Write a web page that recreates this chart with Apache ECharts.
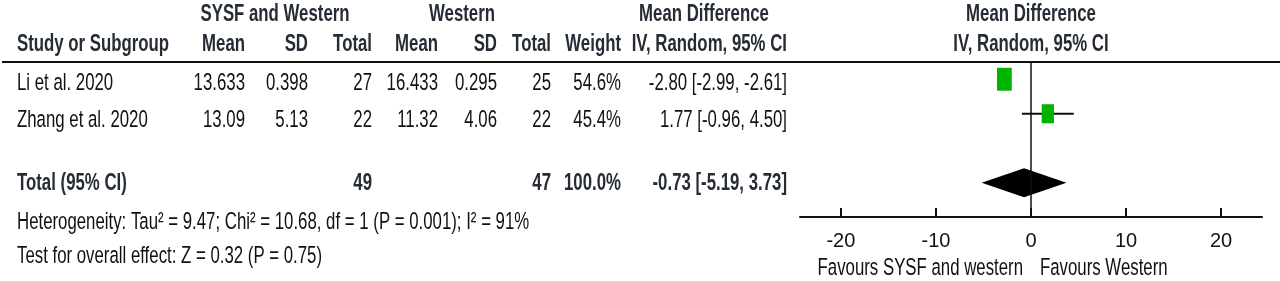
<!DOCTYPE html>
<html>
<head>
<meta charset="utf-8">
<script src="https://cdn.jsdelivr.net/npm/echarts@6/dist/echarts.min.js"></script>
<style>
  html, body { margin: 0; padding: 0; background: #fff; }
  #main { width: 1280px; height: 281px; }
</style>
</head>
<body>
<div id="main"></div>
<script>
// study rows
var studies = ["Li et al. 2020", "Zhang et al. 2020"];
var expMean = [13.633, 13.09];
var expSD = [0.398, 5.13];
var expTotal = [27, 22];
var ctlMean = [16.433, 11.32];
var ctlSD = [0.295, 4.06];
var ctlTotal = [25, 22];
var weights = [54.6, 45.4];
var md = [-2.80, 1.77];
var ciLow = [-2.99, -0.96];
var ciHigh = [-2.61, 4.50];
var studyRows = [0, 1];

// pooled row
var totalLabel = "Total (95% CI)";
var totalExp = 49;
var totalCtl = 47;
var totalWeight = 100.0;
var totalMd = -0.73;
var totalLow = -5.19;
var totalHigh = 3.73;
var totalRow = 3;

var heterogeneity = "Heterogeneity: Tau\u00b2 = 9.47; Chi\u00b2 = 10.68, df = 1 (P = 0.001); I\u00b2 = 91%";
var overallEffect = "Test for overall effect: Z = 0.32 (P = 0.75)";

var tickValues = [-20, -10, 0, 10, 20];
var favoursLeft = "Favours SYSF and western";
var favoursRight = "Favours Western";

// narrow look: Arial-metric font squeezed horizontally, stretched a bit vertically
var FONT = '"Liberation Sans", Arial, sans-serif';

function txt(x, y, s, align, bold) {
  return {
    type: "text",
    x: x,
    y: y,
    scaleX: 0.8,
    scaleY: 1.18,
    silent: true,
    style: {
      text: s,
      fill: bold ? "#252c35" : "#111",
      fontSize: 21,
      fontFamily: FONT,
      fontWeight: bold ? "bold" : "normal",
      align: align,
      textAlign: align,
      verticalAlign: "middle",
      textVerticalAlign: "middle"
    }
  };
}

function ci(m, lo, hi) {
  return m.toFixed(2) + " [" + lo.toFixed(2) + ", " + hi.toFixed(2) + "]";
}

var graphics = [];
// header rows
graphics.push(txt(275, 14, "SYSF and Western", "center", true));
graphics.push(txt(462, 14, "Western", "center", true));
graphics.push(txt(704, 14, "Mean Difference", "center", true));
graphics.push(txt(1031, 14, "Mean Difference", "center", true));
graphics.push(txt(17, 44, "Study or Subgroup", "left", true));
graphics.push(txt(245, 44, "Mean", "right", true));
graphics.push(txt(308, 44, "SD", "right", true));
graphics.push(txt(372, 44, "Total", "right", true));
graphics.push(txt(438, 44, "Mean", "right", true));
graphics.push(txt(497, 44, "SD", "right", true));
graphics.push(txt(551, 44, "Total", "right", true));
graphics.push(txt(621, 44, "Weight", "right", true));
graphics.push(txt(787, 44, "IV, Random, 95% CI", "right", true));
graphics.push(txt(1031, 44, "IV, Random, 95% CI", "center", true));
graphics.push({
  type: "line",
  silent: true,
  shape: { x1: 2, y1: 62, x2: 1280, y2: 62 },
  style: { stroke: "#111", lineWidth: 2 }
});

// study rows
var rowY = [83, 120];
for (var i = 0; i < studies.length; i++) {
  var y = rowY[i];
  graphics.push(txt(17, y, studies[i], "left", false));
  graphics.push(txt(245, y, String(expMean[i]), "right", false));
  graphics.push(txt(308, y, String(expSD[i]), "right", false));
  graphics.push(txt(372, y, String(expTotal[i]), "right", false));
  graphics.push(txt(438, y, String(ctlMean[i]), "right", false));
  graphics.push(txt(497, y, String(ctlSD[i]), "right", false));
  graphics.push(txt(551, y, String(ctlTotal[i]), "right", false));
  graphics.push(txt(621, y, weights[i].toFixed(1) + "%", "right", false));
  graphics.push(txt(787, y, ci(md[i], ciLow[i], ciHigh[i]), "right", false));
}

// total row
graphics.push(txt(17, 183, totalLabel, "left", true));
graphics.push(txt(372, 183, String(totalExp), "right", true));
graphics.push(txt(551, 183, String(totalCtl), "right", true));
graphics.push(txt(621, 183, totalWeight.toFixed(1) + "%", "right", true));
graphics.push(txt(787, 183, ci(totalMd, totalLow, totalHigh), "right", true));

graphics.push(txt(17, 222, heterogeneity, "left", false));
graphics.push(txt(17, 256, overallEffect, "left", false));

graphics.push(txt(1023, 268, favoursLeft, "right", false));
graphics.push(txt(1040, 268, favoursRight, "left", false));

var studyData = [];
for (var j = 0; j < studies.length; j++) {
  studyData.push([md[j], studyRows[j], ciLow[j], ciHigh[j], weights[j]]);
}

var option = {
  animation: false,
  grid: { left: 800, right: 18, top: 62, bottom: 64 },
  xAxis: {
    type: "value",
    min: -24.3,
    max: 24.3,
    splitLine: { show: false },
    axisLine: { onZero: false, lineStyle: { color: "#111", width: 2 } },
    axisTick: {
      customValues: tickValues,
      inside: true,
      length: 9,
      lineStyle: { color: "#111", width: 2 }
    },
    axisLabel: {
      customValues: tickValues,
      color: "#111",
      fontSize: 20,
      fontFamily: FONT,
      margin: 14
    }
  },
  yAxis: {
    type: "value",
    inverse: true,
    min: -0.5,
    max: 3.99,
    show: false
  },
  graphic: graphics,
  series: [
    {
      type: "custom",
      data: studyData,
      renderItem: function(params, api) {
        var c = api.coord([api.value(0), api.value(1)]);
        var lo = api.coord([api.value(2), api.value(1)]);
        var hi = api.coord([api.value(3), api.value(1)]);
        var w = api.value(4) * 0.27;
        var h = api.value(4) * 0.42;
        return {
          type: "group",
          children: [
            {
              type: "line",
              shape: { x1: lo[0], y1: lo[1], x2: hi[0], y2: hi[1] },
              style: { stroke: "#111", lineWidth: 2 }
            },
            {
              type: "rect",
              shape: { x: c[0] - w / 2, y: c[1] - h / 2, width: w, height: h },
              style: { fill: "#00b300" }
            }
          ]
        };
      },
      markLine: {
        silent: true,
        symbol: "none",
        label: { show: false },
        lineStyle: { color: "#111", width: 1.5, type: "solid" },
        data: [{ xAxis: 0 }]
      },
      z: 3
    },
    {
      type: "custom",
      data: [[totalMd, totalRow, totalLow, totalHigh]],
      renderItem: function(params, api) {
        var c = api.coord([api.value(0), api.value(1)]);
        var lo = api.coord([api.value(2), api.value(1)]);
        var hi = api.coord([api.value(3), api.value(1)]);
        var half = 14.5;
        return {
          type: "polygon",
          shape: {
            points: [[lo[0], c[1]], [c[0], c[1] - half], [hi[0], c[1]], [c[0], c[1] + half]]
          },
          style: { fill: "#000" }
        };
      },
      z: 4
    }
  ]
};

var myChart = echarts.init(document.getElementById("main"));
myChart.setOption(option);
</script>
</body>
</html>
